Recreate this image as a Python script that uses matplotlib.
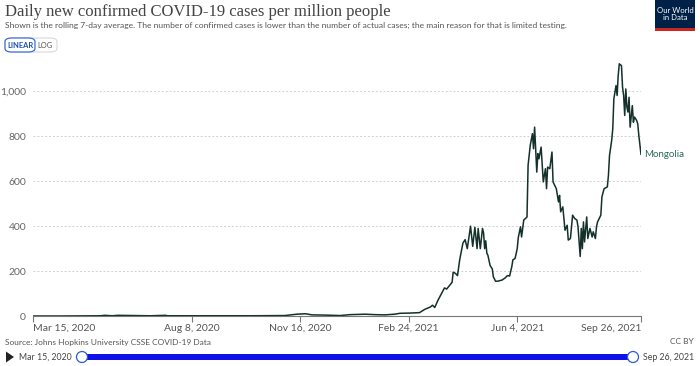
import pandas as pd
import matplotlib
matplotlib.use('Agg')
import matplotlib.pyplot as plt
from matplotlib.patches import FancyBboxPatch, Rectangle, Circle, Polygon
from matplotlib.transforms import IdentityTransform

start = pd.Timestamp('2020-03-15')
end = pd.Timestamp('2021-09-26')

# days since 2020-03-15 and the 7-day average (cases per million)
day = [0, 25, 62, 66, 73, 78, 108, 122, 124, 135, 200, 232, 243, 251, 257, 269,
       283, 292, 306, 315, 324, 333, 338, 347, 356, 361, 366, 368, 370, 373,
       378, 379, 381, 386, 387, 389, 391, 393, 396, 398, 400, 402, 403, 405,
       407, 409, 410, 412, 414, 415, 416, 417, 418, 419, 421, 423, 424, 426,
       428, 432, 435, 437, 439, 441, 442, 444, 446, 447, 449, 450, 451, 452,
       455, 456, 458, 460, 461, 462, 464, 465, 466, 468, 469, 470, 472, 473,
       474, 476, 478, 479, 482, 484, 485, 486, 488, 490, 492, 493, 495, 496,
       497, 499, 501, 502, 504, 505, 506, 507, 508, 510, 511, 513, 515, 516,
       518, 519, 520, 523, 524, 526, 529, 530, 531, 533, 534, 535, 537, 538,
       539, 540, 542, 543, 544, 545, 546, 547, 548, 549, 550, 552, 553, 554,
       556, 557, 558, 560]
cases = [0, 0, 1, 3, 1, 3, 1, 3, 1, 1, 1, 2, 8, 10, 5, 4,
         2, 6, 8, 6, 5, 8, 12, 13, 15, 30, 40, 48, 38, 70,
         115, 125, 120, 150, 195, 190, 180, 250, 325, 340, 300, 365, 400, 310,
         395, 300, 390, 300, 390, 370, 300, 335, 280, 270, 225, 210, 175, 155,
         155, 160, 170, 180, 178, 220, 250, 256, 300, 350, 397, 352, 390, 427,
         441, 671, 760, 812, 745, 841, 641, 723, 700, 752, 671, 597, 656, 567,
         663, 656, 730, 597, 567, 508, 537, 464, 486, 382, 404, 338, 345, 397,
         449, 434, 427, 397, 265, 390, 300, 419, 330, 441, 345, 390, 352, 375,
         345, 397, 419, 449, 530, 567, 575, 626, 715, 782, 834, 967, 1026, 982,
         1071, 1123, 1115, 1019, 982, 893, 1011, 930, 908, 974, 841, 937, 863, 886,
         871, 856, 804, 720]
dates = start + pd.to_timedelta(day, unit='D')

yticks = [0, 200, 400, 600, 800, 1000]
ytick_labels = ['0', '200', '400', '600', '800', '1,000']
xtick_dates = pd.to_datetime(['2020-03-15', '2020-08-08', '2020-11-16',
                              '2021-02-24', '2021-06-04', '2021-09-26'])
xtick_labels = ['Mar 15, 2020', 'Aug 8, 2020', 'Nov 16, 2020',
                'Feb 24, 2021', 'Jun 4, 2021', 'Sep 26, 2021']

W, H = 700, 366
fig = plt.figure(figsize=(W / 100, H / 100), dpi=100)
plt.rcParams['font.family'] = ['Lato', 'DejaVu Sans']


def fx(x):
    return x / W


def fy(y):
    return 1 - y / H


ax = fig.add_axes([fx(33), fy(316), (641 - 33) / W, (316 - 60) / H])
ax.plot(dates, cases, color='#14302b', lw=1.1, solid_joinstyle='round')
ax.set_xlim(start, end)
ax.set_ylim(0, 1140)

ax.set_yticks(yticks)
ax.set_yticklabels(ytick_labels)
ax.set_xticks(xtick_dates)
ax.set_xticklabels(xtick_labels)
labs = ax.get_xticklabels()
labs[0].set_ha('left')
labs[-1].set_ha('right')

for s in ['top', 'right', 'left']:
    ax.spines[s].set_visible(False)
ax.spines['bottom'].set_color('#777777')
ax.spines['bottom'].set_linewidth(0.8)
ax.tick_params(axis='y', length=0, pad=5, labelsize=7.5, labelcolor='#666666')
ax.tick_params(axis='x', length=4, width=0.8, color='#777777', pad=1.5,
               labelsize=7.5, labelcolor='#555555')
ax.grid(axis='y', color='#d0d0d0', lw=0.7, linestyle=(0, (2, 2)))
ax.set_axisbelow(True)

ax.annotate('Mongolia', (dates[-1], cases[-1]), xytext=(2, 0),
            textcoords='offset points', va='center', ha='left',
            fontsize=7, color='#2a6a5c', annotation_clip=False)

# header
fig.text(fx(5), fy(12), 'Daily new confirmed COVID-19 cases per million people',
         family='Liberation Serif', fontsize=12, color='#444444', va='center')
fig.text(fx(5), fy(25), 'Shown is the rolling 7-day average. The number of confirmed cases is lower '
         'than the number of actual cases; the main reason for that is limited testing.',
         fontsize=6.1, color='#555555', va='center')

# linear / log toggle
fig.patches.append(FancyBboxPatch((fx(5), fy(52)), fx(52), 14 / H,
                                  boxstyle='round,pad=0,rounding_size=0.01',
                                  transform=fig.transFigure, fc='white',
                                  ec='#cccccc', lw=0.6))
fig.patches.append(FancyBboxPatch((fx(5), fy(52)), fx(30), 14 / H,
                                  boxstyle='round,pad=0,rounding_size=0.01',
                                  transform=fig.transFigure, fc='white',
                                  ec='#3b6fd6', lw=0.9))
fig.text(fx(20), fy(45), 'LINEAR', fontsize=5.4, color='#1d4fb5',
         ha='center', va='center', weight='bold')
fig.text(fx(45.5), fy(45), 'LOG', fontsize=5.4, color='#555555',
         ha='center', va='center')

# logo
fig.patches.append(Rectangle((fx(655), fy(28)), fx(40), 28 / H,
                             transform=fig.transFigure, fc='#002147', ec='none'))
fig.patches.append(Rectangle((fx(655), fy(30.5)), fx(40), 2.5 / H,
                             transform=fig.transFigure, fc='#ce261e', ec='none'))
fig.text(fx(675), fy(14), 'Our World\nin Data', fontsize=5.6, color='white',
         ha='center', va='center', linespacing=1.0)

# footer
fig.text(fx(5), fy(342), 'Source: Johns Hopkins University CSSE COVID-19 Data',
         fontsize=6, color='#555555', va='center')
fig.text(fx(694), fy(342), 'CC BY', fontsize=6, color='#555555',
         va='center', ha='right')

# timeline
fig.patches.append(Polygon([(fx(6), fy(351.5)), (fx(6), fy(362.5)), (fx(14), fy(357))],
                           closed=True, transform=fig.transFigure,
                           fc='#222222', ec='none'))
fig.text(fx(19), fy(357), 'Mar 15, 2020', fontsize=6.3, color='#444444', va='center')
fig.text(fx(694), fy(357), 'Sep 26, 2021', fontsize=6.3, color='#444444',
         va='center', ha='right')
fig.patches.append(Rectangle((fx(82), fy(360)), fx(551), 6 / H,
                             transform=fig.transFigure, fc='#1010e8', ec='none'))
for cx in (82, 633):
    fig.patches.append(Circle((cx, H - 357), 5.5, transform=IdentityTransform(),
                              fc='white', ec='#2a5bd7', lw=0.9))

fig.savefig('out.png', dpi=100)
